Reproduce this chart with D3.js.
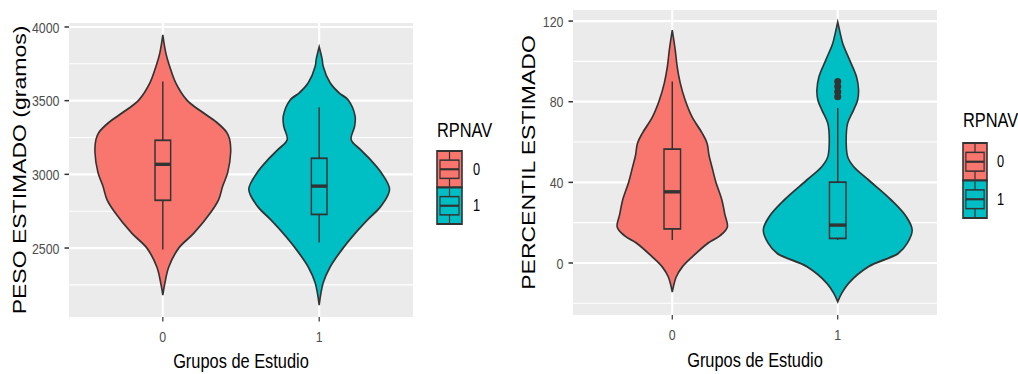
<!DOCTYPE html>
<html>
<head>
<meta charset="utf-8">
<script src="https://cdn.jsdelivr.net/npm/d3@7"></script>
<style>
  html, body { margin: 0; padding: 0; background: #fff; }
  svg { display: block; }
  text { font-family: "Liberation Sans", Arial, Helvetica, sans-serif; }
</style>
</head>
<body>
<svg id="chart" width="1018" height="374"></svg>
<script>
// ---------------- DATA ----------------
const groups = ["0", "1"];
const legendTitle = "RPNAV";
const xTitle = "Grupos de Estudio";

// Panel A: PESO ESTIMADO (gramos)  -- violin profiles as [value, relative density]
const pesoViolin0 = [[2181,0],[2260,2],[2372,6],[2500,16],[2600,31],[2742,48],[2830,56],[2920,60],[3013,65],[3150,68],[3237,67],[3285,64],[3353,54],[3420,40],[3505,24],[3620,13],[3730,7],[3824,3],[3946,0]];
const pesoViolin1 = [[2113,0],[2263,4],[2372,11],[2500,24],[2607,37],[2695,49],[2785,62],[2898,70.5],[3013,62],[3102,51],[3170,41],[3237,32],[3326,35.5],[3394,36],[3505,29],[3552,20],[3620,11],[3733,4],[3780,3],[3865,0]];
// box stats: [lower whisker, Q1, median, Q3, upper whisker]
const pesoBox = [[2490, 2824, 3068, 3231, 3630], [2538, 2728, 2920, 3109, 3455]];
const pesoTicks = [2500, 3000, 3500, 4000];
const pesoMinor = [2250, 2750, 3250, 3750];

// Panel B: PERCENTIL ESTIMADO
const percViolin0 = [[-14.4,0],[-6.9,4],[-2,10],[3,20],[9.9,36],[13.5,48],[17.9,55.5],[24,53],[31.2,50],[40,44],[47.6,40],[53.5,37],[59.5,35],[64.5,30],[72.4,20],[80.8,13],[89.3,8],[97.2,5],[105.6,3],[115.5,0]];
const percViolin1 = [[-19.2,0],[-15,4],[-10,11],[-1.8,31],[4.8,61],[9.8,70],[16.4,75],[23,69],[31.2,54],[41.2,31],[47.8,16],[52.7,10],[61,8.5],[69.3,10],[75.9,16],[80.8,20],[85.8,21],[92.2,19],[100.7,12],[109,5],[114,2.5],[119.5,0]];
const percBox = [[11.4, 16.9, 35.3, 56.5, 90], [11.4, 12.2, 18.8, 40.1, 76.9]];
const percOutliers = [[], [82.5, 85, 87.5, 90]];
const percTicks = [0, 40, 80, 120];
const percMinor = [-20, 20, 60, 100];

const fillColors = ["#F8766D", "#00BFC4"];

// ---------------- LAYOUT ----------------
const SX = 0.8; // horizontal compression of the reference image
const X = v => v / SX;

const panels = [
  { yTitle: "PESO ESTIMADO (gramos)", x0: 69, x1: 413, y0: 23, y1: 317,
    domain: [2032, 4027], ticks: pesoTicks, minor: pesoMinor,
    violins: [pesoViolin0, pesoViolin1], boxes: pesoBox, outliers: [[], []],
    yTitleX: 26, xTitleY: 368, tickLabelY: 342,
    legend: { x: 437, titleY: 137, keyY: 151, keyW: 25, keyH: 36.5, labelX: 473 } },
  { yTitle: "PERCENTIL ESTIMADO", x0: 573, x1: 937, y0: 10, y1: 315,
    domain: [-25.8, 125.5], ticks: percTicks, minor: percMinor,
    violins: [percViolin0, percViolin1], boxes: percBox, outliers: percOutliers,
    yTitleX: 535, xTitleY: 367, tickLabelY: 340,
    legend: { x: 963, titleY: 127, keyY: 143, keyW: 24, keyH: 37.5, labelX: 997 } }
];

const svg = d3.select("#chart");
const root = svg.append("g").attr("transform", `scale(${SX},1)`);
const ink = "#333333";

panels.forEach(p => {
  const g = root.append("g");
  const x = d3.scalePoint().domain(groups).range([X(p.x0), X(p.x1)]).padding(0.6);
  const y = d3.scaleLinear().domain(p.domain).range([p.y1, p.y0]);
  const step = x.step();

  // background
  g.append("rect").attr("x", X(p.x0)).attr("y", p.y0)
    .attr("width", X(p.x1) - X(p.x0)).attr("height", p.y1 - p.y0).attr("fill", "#EBEBEB");

  // grid
  g.selectAll(".minor").data(p.minor).join("line")
    .attr("x1", X(p.x0)).attr("x2", X(p.x1))
    .attr("y1", d => y(d)).attr("y2", d => y(d))
    .attr("stroke", "#fff").attr("stroke-width", 1.1);
  g.selectAll(".major").data(p.ticks).join("line")
    .attr("x1", X(p.x0)).attr("x2", X(p.x1))
    .attr("y1", d => y(d)).attr("y2", d => y(d))
    .attr("stroke", "#fff").attr("stroke-width", 2.2);
  g.selectAll(".vmajor").data(groups).join("line")
    .attr("x1", d => x(d)).attr("x2", d => x(d))
    .attr("y1", p.y0).attr("y2", p.y1)
    .attr("stroke", "#fff").attr("stroke-width", 2.6);

  // violins
  const maxD = d3.max(p.violins.flat(), d => d[1]);
  const w = d3.scaleLinear().domain([0, maxD]).range([0, 0.45 * step]);
  groups.forEach((gr, i) => {
    const cx = x(gr);
    const area = d3.area()
      .y(d => y(d[0]))
      .x0(d => cx - w(d[1]))
      .x1(d => cx + w(d[1]))
      .curve(d3.curveCatmullRom.alpha(0.5));
    g.append("path").datum(p.violins[i]).attr("d", area)
      .attr("fill", fillColors[i]).attr("stroke", ink).attr("stroke-width", 2);

    // boxplot
    const b = p.boxes[i];
    const bw = 0.1 * step;
    g.append("line").attr("x1", cx).attr("x2", cx).attr("y1", y(b[4])).attr("y2", y(b[3]))
      .attr("stroke", ink).attr("stroke-width", 1.8);
    g.append("line").attr("x1", cx).attr("x2", cx).attr("y1", y(b[1])).attr("y2", y(b[0]))
      .attr("stroke", ink).attr("stroke-width", 1.8);
    g.append("rect").attr("x", cx - bw / 2).attr("width", bw)
      .attr("y", y(b[3])).attr("height", y(b[1]) - y(b[3]))
      .attr("fill", fillColors[i]).attr("stroke", ink).attr("stroke-width", 1.8);
    g.append("line").attr("x1", cx - bw / 2).attr("x2", cx + bw / 2)
      .attr("y1", y(b[2])).attr("y2", y(b[2]))
      .attr("stroke", ink).attr("stroke-width", 3.4);
    g.selectAll(null).data(p.outliers[i]).join("ellipse")
      .attr("cx", cx).attr("cy", d => y(d)).attr("rx", 4.4).attr("ry", 3.5)
      .attr("fill", ink);
  });

  // y axis ticks + labels
  g.selectAll(".ytick").data(p.ticks).join("line")
    .attr("x1", X(p.x0 - 4.5)).attr("x2", X(p.x0))
    .attr("y1", d => y(d)).attr("y2", d => y(d))
    .attr("stroke", ink).attr("stroke-width", 1.5);
  g.selectAll(".ylab").data(p.ticks).join("text")
    .attr("x", X(p.x0 - 9.5)).attr("y", d => y(d)).attr("dy", "0.36em")
    .attr("text-anchor", "end").attr("font-size", 15.5).attr("fill", "#4D4D4D")
    .text(d => d);

  // x axis ticks + labels
  g.selectAll(".xtick").data(groups).join("line")
    .attr("x1", d => x(d)).attr("x2", d => x(d))
    .attr("y1", p.y1).attr("y2", p.y1 + 4.5)
    .attr("stroke", ink).attr("stroke-width", 1.5);
  g.selectAll(".xlab").data(groups).join("text")
    .attr("x", d => x(d)).attr("y", p.tickLabelY)
    .attr("text-anchor", "middle").attr("font-size", 15.5).attr("fill", "#4D4D4D")
    .text(d => d);

  // axis titles
  g.append("text").attr("x", (X(p.x0) + X(p.x1)) / 2).attr("y", p.xTitleY)
    .attr("text-anchor", "middle").attr("font-size", 20.5).attr("fill", "#000")
    .text(xTitle);
  g.append("text")
    .attr("transform", `translate(${X(p.yTitleX)},${(p.y0 + p.y1) / 2}) rotate(-90)`)
    .attr("text-anchor", "middle").attr("font-size", 23).attr("fill", "#000")
    .text(p.yTitle);

  // legend
  const L = p.legend;
  g.append("text").attr("x", X(L.x)).attr("y", L.titleY)
    .attr("font-size", 20.5).attr("fill", "#000").text(legendTitle);
  groups.forEach((gr, i) => {
    const kx = X(L.x), ky = L.keyY + i * L.keyH, kw = X(L.keyW) - X(0), kh = L.keyH;
    const kg = g.append("g");
    kg.append("rect").attr("x", kx).attr("y", ky).attr("width", kw).attr("height", kh)
      .attr("fill", fillColors[i]).attr("stroke", ink).attr("stroke-width", 2);
    const cx = kx + kw / 2;
    kg.append("line").attr("x1", cx).attr("x2", cx).attr("y1", ky + 1).attr("y2", ky + kh * 0.25)
      .attr("stroke", ink).attr("stroke-width", 1.5);
    kg.append("line").attr("x1", cx).attr("x2", cx).attr("y1", ky + kh * 0.75).attr("y2", ky + kh - 1)
      .attr("stroke", ink).attr("stroke-width", 1.5);
    kg.append("rect").attr("x", kx + kw * 0.12).attr("y", ky + kh * 0.25)
      .attr("width", kw * 0.76).attr("height", kh * 0.5)
      .attr("fill", fillColors[i]).attr("stroke", ink).attr("stroke-width", 1.5);
    kg.append("line").attr("x1", kx + kw * 0.12).attr("x2", kx + kw * 0.88)
      .attr("y1", ky + kh / 2).attr("y2", ky + kh / 2)
      .attr("stroke", ink).attr("stroke-width", 2.2);
    g.append("text").attr("x", X(L.labelX)).attr("y", ky + kh / 2).attr("dy", "0.36em")
      .attr("font-size", 16).attr("fill", "#000").text(gr);
  });
});
</script>
</body>
</html>
